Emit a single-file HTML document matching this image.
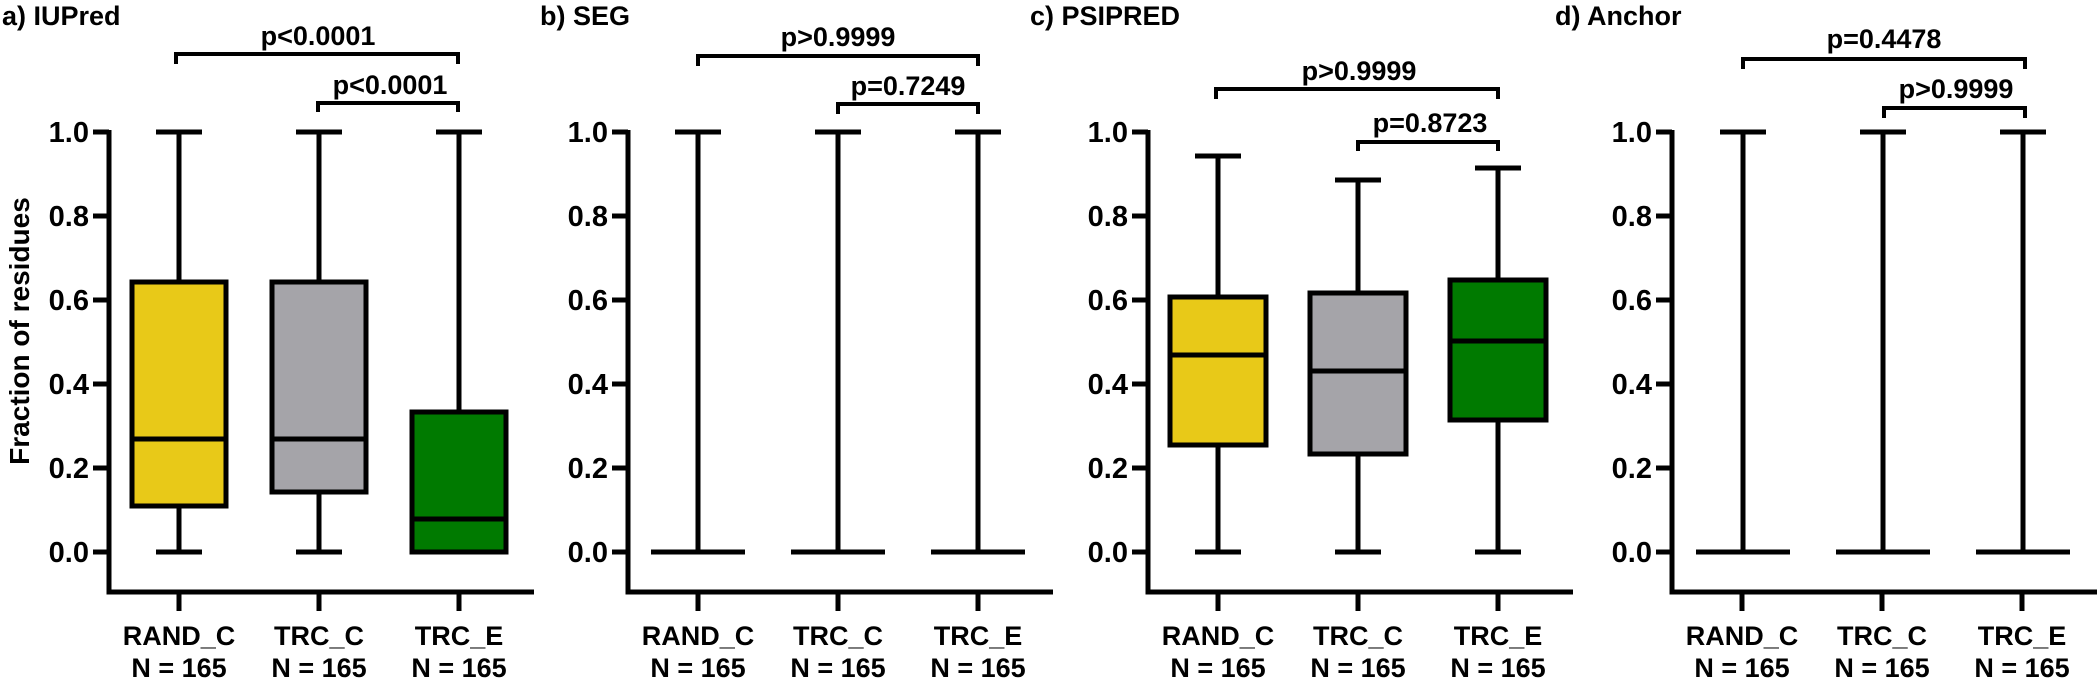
<!DOCTYPE html>
<html><head><meta charset="utf-8"><style>
html,body{margin:0;padding:0;background:#fff;}
svg{display:block;font-family:"Liberation Sans",Arial,sans-serif;font-weight:bold;}
</style></head><body>
<svg width="2100" height="679" viewBox="0 0 2100 679" xmlns="http://www.w3.org/2000/svg">
<defs>
<g id="axes" fill="none" stroke="#000" stroke-width="5">
<path d="M0,130 V592 H425"/>
<path d="M-16,132H0M-16,216H0M-16,300H0M-16,384H0M-16,468H0M-16,552H0"/>
<path d="M70,592V611M210,592V611M350,592V611"/>
</g>
<g id="ticklabels" font-size="29" text-anchor="end" fill="#000">
<text x="-20" y="142">1.0</text><text x="-20" y="226">0.8</text><text x="-20" y="310">0.6</text>
<text x="-20" y="394">0.4</text><text x="-20" y="478">0.2</text><text x="-20" y="562">0.0</text>
</g>
<g id="catlabels" font-size="27" text-anchor="middle" fill="#000">
<text x="70" y="645">RAND_C</text><text x="210" y="645">TRC_C</text><text x="350" y="645">TRC_E</text>
<text x="70" y="677">N = 165</text><text x="210" y="677">N = 165</text><text x="350" y="677">N = 165</text>
</g>
<g id="flat" fill="none" stroke="#000" stroke-width="5">
<path d="M70,132V552M47,132H93M23,552H117"/>
<path d="M210,132V552M187,132H233M163,552H257"/>
<path d="M350,132V552M327,132H373M303,552H397"/>
</g>
</defs>

<g font-size="27" fill="#000">
<text x="2" y="25">a) IUPred</text>
<text x="540" y="25">b) SEG</text>
<text x="1030" y="25">c) PSIPRED</text>
<text x="1555" y="25">d) Anchor</text>
</g>
<text transform="translate(29,331) rotate(-90)" font-size="28" text-anchor="middle" fill="#000">Fraction of residues</text>

<g transform="translate(109,0)">
<use href="#axes"/><use href="#ticklabels"/><use href="#catlabels"/>
<g stroke="#000" stroke-width="5" fill="none">
<path d="M70,132V552M47,132H93M47,552H93"/>
<path d="M210,132V552M187,132H233M187,552H233"/>
<path d="M350,132V552M327,132H373"/>
<rect x="23" y="282" width="94" height="224" fill="#E8C918"/>
<path d="M23,439H117"/>
<rect x="163" y="282" width="94" height="210" fill="#A5A4A9"/>
<path d="M163,439H257"/>
<rect x="303" y="412" width="94" height="140" fill="#007A00"/>
<path d="M303,519H397"/>
<path stroke-width="4" d="M67,64V54H349V64M209,112V103H349V112"/>
</g>
<g font-size="27" text-anchor="middle" fill="#000">
<text x="209" y="45">p&lt;0.0001</text><text x="281" y="94">p&lt;0.0001</text>
</g>
</g>

<g transform="translate(628,0)">
<use href="#axes"/><use href="#ticklabels"/><use href="#catlabels"/><use href="#flat"/>
<path stroke="#000" stroke-width="4" fill="none" d="M70,66V56H350V66M210,114V104H350V114"/>
<g font-size="27" text-anchor="middle" fill="#000">
<text x="210" y="46">p&gt;0.9999</text><text x="280" y="95">p=0.7249</text>
</g>
</g>

<g transform="translate(1148,0)">
<use href="#axes"/><use href="#ticklabels"/><use href="#catlabels"/>
<g stroke="#000" stroke-width="5" fill="none">
<path d="M70,156V552M47,156H93M47,552H93"/>
<path d="M210,180V552M187,180H233M187,552H233"/>
<path d="M350,168V552M327,168H373M327,552H373"/>
<rect x="22" y="297" width="96" height="148" fill="#E8C918"/>
<path d="M22,355H118"/>
<rect x="162" y="293" width="96" height="161" fill="#A5A4A9"/>
<path d="M162,371H258"/>
<rect x="302" y="280" width="96" height="140" fill="#007A00"/>
<path d="M302,341H398"/>
<path stroke-width="4" d="M68,99V89H350V99M210,151V142H350V151"/>
</g>
<g font-size="27" text-anchor="middle" fill="#000">
<text x="211" y="80">p&gt;0.9999</text><text x="282" y="132">p=0.8723</text>
</g>
</g>

<g transform="translate(1672,0)">
<use href="#axes"/><use href="#ticklabels"/><use href="#catlabels"/>
<g transform="translate(1,0)"><use href="#flat"/></g>
<path stroke="#000" stroke-width="4" fill="none" d="M71,69V59H353V69M212,118V108H353V118"/>
<g font-size="27" text-anchor="middle" fill="#000">
<text x="212" y="48">p=0.4478</text><text x="284" y="98">p&gt;0.9999</text>
</g>
</g>
</svg>
</body></html>
